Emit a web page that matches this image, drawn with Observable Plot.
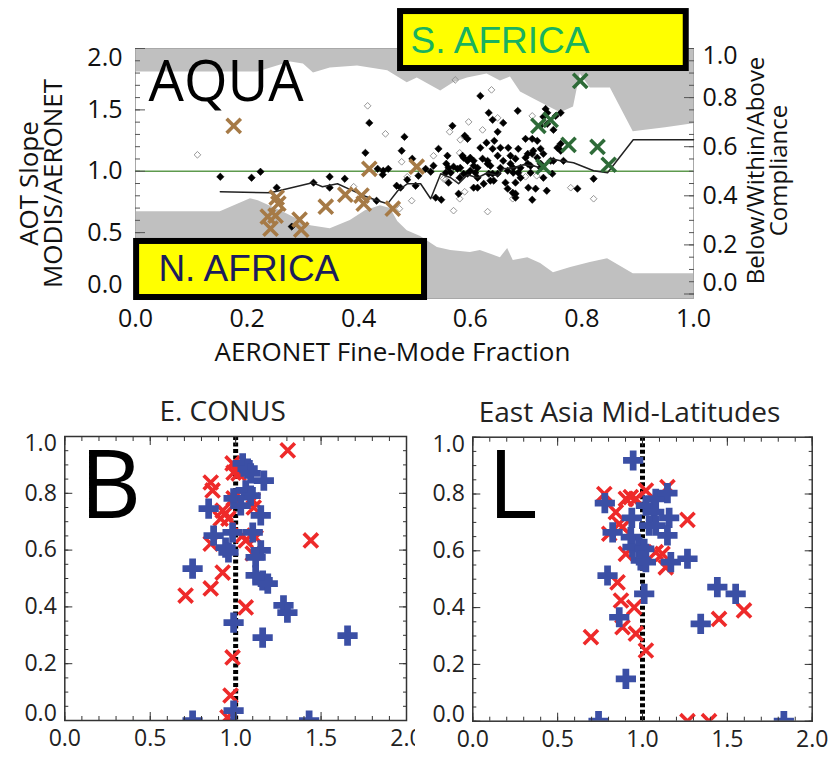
<!DOCTYPE html>
<html><head><meta charset="utf-8">
<script src="https://cdn.jsdelivr.net/npm/d3@7"></script>
<script src="https://cdn.jsdelivr.net/npm/@observablehq/plot@0.6"></script>
<style>
body{margin:0;background:#fff;}
#wrap{position:relative;width:834px;height:757px;overflow:hidden;}
#wrap svg{position:absolute;}
</style></head><body><div id="wrap"></div>
<script>
// ---------- TOP PANEL DATA (x = AERONET fine-mode fraction, y = AOT slope) ----------
const filledSites = [[0.152,0.955],[0.208,0.947],[0.224,0.996],[0.253,0.866],[0.280,0.549],[0.319,0.907],[0.348,0.955],[0.348,0.866],[0.375,0.939],[0.412,1.150],[0.419,1.394],[0.434,1.020],[0.443,0.972],[0.453,1.020],[0.432,0.760],[0.468,0.882],[0.482,1.280],[0.477,1.167],[0.496,1.102],[0.487,0.931],[0.543,1.183],[0.534,1.045],[0.529,0.996],[0.568,1.370],[0.590,1.289],[0.557,1.061],[0.561,1.028],[0.570,1.037],[0.577,1.020],[0.582,1.028],[0.588,1.110],[0.595,1.085],[0.581,0.947],[0.595,0.980],[0.579,0.817],[0.538,0.785],[0.556,0.988],[0.565,0.988],[0.618,1.614],[0.633,1.476],[0.640,1.419],[0.659,1.394],[0.649,1.321],[0.685,1.492],[0.629,1.232],[0.643,1.248],[0.654,1.191],[0.668,1.191],[0.686,1.183],[0.699,1.264],[0.711,1.264],[0.720,1.248],[0.726,1.183],[0.735,1.508],[0.738,1.476],[0.731,1.443],[0.753,1.451],[0.762,1.476],[0.738,1.386],[0.749,1.337],[0.756,1.191],[0.762,1.224],[0.559,1.126],[0.586,1.126],[0.600,1.110],[0.618,1.191],[0.622,1.102],[0.631,1.061],[0.649,1.126],[0.659,1.085],[0.672,1.126],[0.681,1.102],[0.699,1.110],[0.711,1.142],[0.720,1.110],[0.726,1.061],[0.713,1.167],[0.588,0.980],[0.606,1.045],[0.609,0.988],[0.636,1.045],[0.640,0.980],[0.654,1.028],[0.667,1.004],[0.677,1.028],[0.686,0.988],[0.690,0.947],[0.708,1.045],[0.708,0.988],[0.681,0.907],[0.663,0.907],[0.667,0.858],[0.676,0.825],[0.681,0.817],[0.681,0.785],[0.711,0.768],[0.704,0.866],[0.717,0.858],[0.737,0.841],[0.747,0.980],[0.767,1.085],[0.749,1.085],[0.613,0.866],[0.633,0.980],[0.636,0.923],[0.561,0.907],[0.792,0.858],[0.821,0.939],[0.640,1.183],[0.762,1.167],[0.606,1.085],[0.600,1.004],[0.613,1.028],[0.631,1.085],[0.672,1.061],[0.703,1.142],[0.731,1.142],[0.649,0.980],[0.677,0.988],[0.690,1.028],[0.703,1.061],[0.726,1.028],[0.744,1.085],[0.613,0.947],[0.624,0.898],[0.606,0.866],[0.642,0.923],[0.731,0.947],[0.726,1.370],[0.444,1.004],[0.475,0.866],[0.502,0.882],[0.595,1.264],[0.520,1.020],[0.507,0.963],[0.548,0.768]];
const openSites = [[0.111,1.134],[0.416,1.533],[0.448,1.305],[0.477,1.077],[0.487,0.955],[0.391,0.874],[0.495,0.760],[0.473,0.695],[0.573,1.744],[0.563,1.321],[0.582,1.256],[0.597,1.402],[0.534,1.126],[0.581,1.150],[0.556,0.931],[0.579,0.931],[0.590,0.833],[0.570,0.679],[0.581,0.776],[0.638,1.663],[0.622,1.337],[0.552,0.939],[0.631,0.671],[0.676,0.776],[0.699,0.955],[0.719,0.963],[0.780,0.866],[0.821,0.776],[0.711,1.451],[0.649,1.435]];
const nAfricaSites = [[0.176,1.370],[0.419,1.020],[0.504,1.037],[0.253,0.785],[0.256,0.736],[0.237,0.630],[0.251,0.638],[0.242,0.533],[0.294,0.606],[0.297,0.524],[0.341,0.711],[0.376,0.809],[0.405,0.801],[0.409,0.736],[0.461,0.695]];
const sAfricaSites = [[0.797,1.736],[0.722,1.370],[0.744,1.419],[0.776,1.215],[0.828,1.199],[0.731,1.037],[0.848,1.053]];
// running median slope (left axis units)
const medianSlope = [[0.152,0.833],[0.242,0.825],[0.317,0.907],[0.335,0.874],[0.362,0.898],[0.385,0.850],[0.409,0.801],[0.434,0.760],[0.452,0.736],[0.470,0.841],[0.487,0.898],[0.511,0.898],[0.529,0.776],[0.547,0.980],[0.565,0.947],[0.579,0.898],[0.595,0.972],[0.613,0.947],[0.631,0.988],[0.649,0.963],[0.659,1.020],[0.677,1.028],[0.695,1.053],[0.713,1.045],[0.731,1.020],[0.744,1.102],[0.762,1.085],[0.785,1.069],[0.803,1.037],[0.821,1.004],[0.846,0.988],[0.892,1.256],[1.0,1.256]];
// compliance fractions (right axis, 0-1)
const belowFraction = [[0,0.335],[0.152,0.335],[0.206,0.388],[0.220,0.380],[0.260,0.339],[0.314,0.278],[0.349,0.266],[0.385,0.299],[0.412,0.339],[0.439,0.360],[0.457,0.348],[0.470,0.295],[0.487,0.258],[0.511,0.234],[0.541,0.189],[0.565,0.177],[0.600,0.169],[0.618,0.177],[0.654,0.148],[0.667,0.185],[0.677,0.136],[0.703,0.148],[0.726,0.124],[0.749,0.087],[0.780,0.108],[0.815,0.128],[0.846,0.144],[0.892,0.083],[1.0,0.083]];
const aboveFraction = [[0,0.096],[0.219,0.096],[0.278,0.055],[0.301,0.063],[0.319,0.100],[0.349,0.079],[0.398,0.071],[0.452,0.091],[0.487,0.140],[0.505,0.120],[0.547,0.173],[0.570,0.140],[0.595,0.120],[0.630,0.104],[0.654,0.132],[0.672,0.116],[0.690,0.177],[0.713,0.205],[0.738,0.234],[0.762,0.262],[0.785,0.238],[0.797,0.104],[0.815,0.161],[0.851,0.161],[0.892,0.339],[0.950,0.323],[1.0,0.307]];
const regionBoxes = [
  {label:"S. AFRICA", x1:0.475, x2:0.987, y1:1.837, y2:2.301, tx:0.493, ty:1.967, color:"#19b25f"},
  {label:"N. AFRICA", x1:0.002, x2:0.518, y1:-0.0285, y2:0.428, tx:0.041, ty:0.11, color:"#1c1c5c"}
];
const topXTicks = [0,0.2,0.4,0.6,0.8,1.0];

// ---------- BOTTOM PANELS DATA (x = slope, y = fine-mode fraction) ----------
const conusBlue = [[1.041,0.905],[1.07,0.887],[1.088,0.87],[1.165,0.845],[1.059,0.81],[1.088,0.792],[0.988,0.782],[1.03,0.757],[0.842,0.746],[1.147,0.722],[0.982,0.662],[0.871,0.651],[1.1,0.662],[0.941,0.609],[0.958,0.592],[1.147,0.599],[1.117,0.574],[0.748,0.535],[1.117,0.511],[1.158,0.493],[1.188,0.482],[1.28,0.405],[1.303,0.38],[0.988,0.345],[1.158,0.292],[1.655,0.299],[0.988,0.035],[0.748,0],[1.43,0]];
const conusRed = [[1.305,0.951],[1.44,0.634],[0.707,0.44],[0.854,0.465],[0.924,0.521],[0.854,0.838],[0.865,0.81],[0.854,0.623],[0.924,0.739],[0.941,0.729],[0.958,0.711],[0.912,0.711],[0.988,0.782],[1.1,0.775],[1.106,0.75],[0.982,0.905],[0.988,0.873],[1.017,0.87],[1.041,0.88],[1.041,0.651],[1.059,0.634],[1.117,0.644],[1.1,0.588],[1.059,0.398],[0.982,0.222],[0.97,0.088],[0.952,0.011]];
const eastAsiaBlue = [[0.945,0.918],[0.778,0.768],[0.824,0.665],[0.937,0.716],[0.931,0.648],[0.941,0.613],[0.98,0.613],[1.01,0.607],[0.99,0.566],[1.02,0.56],[1.02,0.759],[1.069,0.736],[1.078,0.783],[1.147,0.803],[1.039,0.689],[1.078,0.689],[1.157,0.716],[1.147,0.654],[1.167,0.56],[1.265,0.572],[0.794,0.513],[1.01,0.448],[0.863,0.366],[0.902,0.149],[1.441,0.472],[1.549,0.448],[1.343,0.343],[0.741,0],[1.833,0]];
const eastAsiaRed = [[0.775,0.80],[0.843,0.736],[0.863,0.695],[0.882,0.683],[0.804,0.66],[0.902,0.783],[0.931,0.789],[0.961,0.783],[1.02,0.812],[1.147,0.824],[1.265,0.709],[0.902,0.589],[1.078,0.595],[1.118,0.589],[1.137,0.542],[0.853,0.489],[0.873,0.425],[0.951,0.401],[0.882,0.331],[0.961,0.308],[1.02,0.249],[0.696,0.296],[1.451,0.36],[1.598,0.39],[1.265,0],[1.392,0]];
const bottomXTicks = [0,0.5,1.0,1.5,2.0];
const bottomYTicks = [0,0.2,0.4,0.6,0.8,1.0];

const F = "Open Sans";
const fmt = d => d.toFixed(1);
const X = d => d[0], Y = d => d[1];
const wrap = document.getElementById("wrap");
function place(el, left, top){ el.style.left = left + "px"; el.style.top = top + "px"; wrap.appendChild(el); }

// ---------- TOP PANEL ----------
const gray = "#c0c0c0";
const topPlot = Plot.plot({
  width: 834, height: 380,
  marginTop: 48, marginBottom: 82, marginLeft: 135, marginRight: 141,
  x: {domain: [0, 1], axis: null},
  y: {domain: [-0.0366, 2], axis: null},
  style: {fontFamily: F, background: "white", overflow: "visible", color: "#111"},
  marks: [
    Plot.frame({fill: gray, stroke: null}),
    Plot.areaY(belowFraction, {x: X, y1: d => d[1] * 2, y2: () => 2, fill: "white", clip: "frame"}),
    Plot.areaY(aboveFraction, {x: X, y1: d => (1 - d[1]) * 2, y2: () => 2, fill: gray, clip: "frame"}),
    Plot.frame({stroke: "#a8a8a8", strokeWidth: 1}),
    Plot.ruleY([1], {stroke: "#5e9a4e", strokeWidth: 1.4}),
    Plot.dot(openSites, {x: X, y: Y, symbol: "diamond2", fill: "none", stroke: "#8a8a8a", strokeWidth: 0.9, r: 3}),
    Plot.dot(filledSites, {x: X, y: Y, symbol: "diamond2", fill: "black", stroke: "black", strokeWidth: 0.6, r: 3.3}),
    Plot.line(medianSlope, {x: X, y: Y, stroke: "#222", strokeWidth: 1.5}),
    Plot.dot(nAfricaSites, {x: X, y: Y, symbol: "times", stroke: "#a67a46", strokeWidth: 3.6, r: 6.5}),
    Plot.dot(sAfricaSites, {x: X, y: Y, symbol: "times", stroke: "#2e6b38", strokeWidth: 3.6, r: 6.5}),
    // left axis
    Plot.axisY(d3.ticks(0, 2, 20), {anchor: "left", tickSize: -5, text: null, stroke: "#555"}),
    Plot.axisY([0, 0.5, 1, 1.5, 2], {anchor: "left", tickSize: -10, text: null, stroke: "#555"}),
    Plot.axisY([0.5, 1, 1.5], {anchor: "left", tickSize: 0, tickPadding: 13, fontSize: 25, tickFormat: fmt}),
    Plot.axisY([2], {anchor: "left", tickSize: 0, tickPadding: 13, fontSize: 25, tickFormat: fmt, dy: 9}),
    Plot.axisY([0], {anchor: "left", tickSize: 0, tickPadding: 13, fontSize: 25, tickFormat: fmt, dy: -9}),
    // right axis (compliance fraction = left / 2)
    Plot.axisY(d3.ticks(0, 2, 20), {anchor: "right", tickSize: -5, text: null, stroke: "#555"}),
    Plot.axisY([0, 0.4, 0.8, 1.2, 1.6, 2], {anchor: "right", tickSize: -10, text: null, stroke: "#555"}),
    Plot.axisY([0.4, 0.8, 1.2, 1.6], {anchor: "right", tickSize: 0, tickPadding: 9, fontSize: 25, tickFormat: d => fmt(d / 2)}),
    Plot.axisY([2], {anchor: "right", tickSize: 0, tickPadding: 9, fontSize: 25, tickFormat: d => fmt(d / 2), dy: 7}),
    Plot.axisY([0], {anchor: "right", tickSize: 0, tickPadding: 9, fontSize: 25, tickFormat: d => fmt(d / 2), dy: -11}),
    // x axis
    Plot.axisX(topXTicks, {anchor: "bottom", tickSize: 0, tickPadding: 11, fontSize: 25, tickFormat: fmt}),
    // titles
    Plot.text(["AOT Slope\nMODIS/AERONET"], {frameAnchor: "left", dx: -93, dy: 10, rotate: -90, textAnchor: "middle", lineAnchor: "middle", fontSize: 26, lineHeight: 0.9}),
    Plot.text(["Below/Within/Above\nCompliance"], {frameAnchor: "right", dx: 75, dy: -3, rotate: -90, textAnchor: "middle", lineAnchor: "middle", fontSize: 24, lineHeight: 0.95}),
    Plot.text(["AERONET Fine-Mode Fraction"], {frameAnchor: "bottom", dx: -22, dy: 54, textAnchor: "middle", lineAnchor: "middle", fontSize: 26}),
    Plot.text(["AQUA"], {frameAnchor: "top-left", dx: 13, dy: 52, textAnchor: "start", lineAnchor: "bottom", fontSize: 56, fill: "black"}),
    // region boxes
    Plot.rect(regionBoxes, {x1: "x1", x2: "x2", y1: "y1", y2: "y2", fill: "#ffff00", stroke: "black", strokeWidth: 6}),
    Plot.text(regionBoxes, {x: "tx", y: "ty", text: "label", fill: "color", textAnchor: "start", lineAnchor: "bottom", fontSize: 37, fontFamily: "Liberation Sans"})
  ]
});
place(topPlot, 0, 0);

// ---------- BOTTOM PANELS ----------
function panel(blue, red, title, letter, width, mL, mR, mT, mB) {
  return Plot.plot({
    width, height: 377, marginLeft: mL, marginRight: mR, marginTop: mT, marginBottom: mB,
    x: {domain: [0, 2], axis: null},
    y: {domain: [0, 1], axis: null},
    style: {fontFamily: F, background: "white", overflow: "hidden", color: "#222"},
    marks: [
      Plot.ruleX([1], {stroke: "black", strokeWidth: 5, strokeDasharray: "4,2.5"}),
      Plot.dot(red, {x: X, y: Y, symbol: "times", stroke: "#ee2a2a", strokeWidth: 3.6, r: 6.5, clip: "frame"}),
      Plot.dot(blue, {x: X, y: Y, symbol: "cross", fill: "#3b4fa5", r: 8.5, clip: "frame"}),
      Plot.frame({stroke: "#333", strokeWidth: 1.5}),
      Plot.axisY(d3.ticks(0, 1, 20), {anchor: "left", tickSize: -4, text: null, stroke: "#333"}),
      Plot.axisY(bottomYTicks, {anchor: "left", tickSize: -8, text: null, stroke: "#333"}),
      Plot.axisY(d3.ticks(0, 1, 20), {anchor: "right", tickSize: -4, text: null, stroke: "#333"}),
      Plot.axisY(bottomYTicks, {anchor: "right", tickSize: -8, text: null, stroke: "#333"}),
      Plot.axisX(d3.ticks(0, 2, 16), {anchor: "bottom", tickSize: -4, text: null, stroke: "#333"}),
      Plot.axisX(bottomXTicks, {anchor: "bottom", tickSize: -8, text: null, stroke: "#333"}),
      Plot.axisX(d3.ticks(0, 2, 16), {anchor: "top", tickSize: -4, text: null, stroke: "#333"}),
      Plot.axisX(bottomXTicks, {anchor: "top", tickSize: -8, text: null, stroke: "#333"}),
      Plot.axisY(bottomYTicks.slice(1, 5), {anchor: "left", tickSize: 0, tickPadding: 8, fontSize: 23, tickFormat: fmt}),
      Plot.axisY([1], {anchor: "left", tickSize: 0, tickPadding: 8, fontSize: 23, tickFormat: fmt, dy: 7}),
      Plot.axisY([0], {anchor: "left", tickSize: 0, tickPadding: 8, fontSize: 23, tickFormat: fmt, dy: -7}),
      Plot.axisX(bottomXTicks, {anchor: "bottom", tickSize: 0, tickPadding: 9, fontSize: 23, tickFormat: fmt}),
      Plot.text([title], {frameAnchor: "top", dx: -13, dy: -24, textAnchor: "middle", lineAnchor: "middle", fontSize: 28}),
      Plot.text([letter], {frameAnchor: "top-left", dx: 15, dy: 81, textAnchor: "start", lineAnchor: "bottom", fontSize: 95, fill: "black"})
    ]
  });
}
place(panel(conusBlue, conusRed, "E. CONUS", "B", 415, 64.3, 9, 56, 37), 0, 380);
place(panel(eastAsiaBlue, eastAsiaRed, "East Asia Mid-Latitudes", "L", 419, 57.3, 22.3, 56.7, 36.3), 415, 380);
</script></body></html>
